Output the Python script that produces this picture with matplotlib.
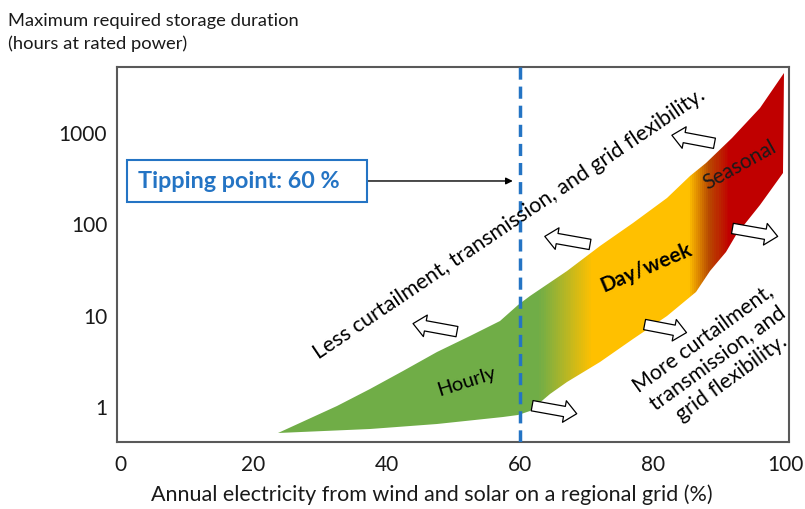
import numpy as np
import matplotlib
matplotlib.use('Agg')
import matplotlib.pyplot as plt
from matplotlib.colors import LinearSegmentedColormap
from matplotlib.patches import Polygon, Rectangle, FancyArrowPatch, ArrowStyle
from matplotlib.ticker import NullLocator

plt.rcParams['font.family'] = ['Lato', 'DejaVu Sans']

# outline of the storage band (x = % wind+solar, y = hours)
upper_x = [23.7, 32.6, 37.5, 42.5, 47.6, 52.6, 57.1, 59.8, 61.6, 67.1, 72.1, 77.0, 82.1, 85.6, 88.1, 92.0, 96.1, 99.8]
upper_y = [0.505, 1.0, 1.54, 2.42, 3.92, 5.88, 8.6, 12.6, 15.8, 30, 57, 100, 188, 328, 456, 860, 1836, 4450]
lower_x = [99.6, 96.1, 92.6, 91.1, 88.6, 86.6, 82.1, 77.0, 72.1, 67.1, 64.6, 61.6, 59.8, 57.5, 47.6, 37.5]
lower_y = [354, 158, 74, 49, 29.7, 17.9, 9.75, 5.45, 3.05, 1.84, 1.36, 0.88, 0.796, 0.757, 0.634, 0.56]

x_ticks = [0, 20, 40, 60, 80, 100]
y_ticks = [1, 10, 100, 1000]
tipping_point = 60

# left-pointing (toward less) and right-pointing (toward more) hollow arrows: (tail, head)
left_arrows = [((50.6, 6.5), (44.0, 7.96)),
               ((70.6, 58.8), (63.8, 72.0)),
               ((89.3, 757), (82.9, 927))]
right_arrows = [((61.9, 1.0), (68.6, 0.817)),
                ((78.8, 7.77), (85.1, 6.34)),
                ((92.0, 88.0), (98.8, 72.0))]

blue = '#2474C4'

fig = plt.figure(figsize=(8.05, 5.10), dpi=100)
ax = fig.add_axes([0.1453, 0.1314, 0.8348, 0.7353])
ax.set_yscale('log')
ax.set_xlim(-0.5, 100.5)
ax.set_ylim(0.40, 5200)

# gradient band: colour changes along x, clipped to the outline
x0 = min(upper_x)
span = 100 - x0
cmap = LinearSegmentedColormap.from_list(
    'band', [(0.0, '#70AD47'), ((63 - x0) / span, '#70AD47'),
             ((71 - x0) / span, '#FFC000'), ((85.6 - x0) / span, '#FFC000'),
             ((88.6 - x0) / span, '#B84A00'),
             ((91.5 - x0) / span, '#C00000'), (1.0, '#C00000')])
xe = np.linspace(x0, 100, 500)
xc = 0.5 * (xe[1:] + xe[:-1])
mesh = ax.pcolormesh(xe, [0.3, 8000], xc[None, :], cmap=cmap,
                     vmin=x0, vmax=100, shading='flat', zorder=1)
outline = Polygon(list(zip(upper_x + lower_x, upper_y + lower_y)), closed=True,
                  facecolor='none', edgecolor='none', transform=ax.transData)
ax.add_patch(outline)
mesh.set_clip_path(outline)

ax.axvline(tipping_point, color=blue, lw=2.5, ls=(0, (3.5, 2)), zorder=3)

# hollow block arrows
style = ArrowStyle.Simple(head_length=0.6, head_width=1.05, tail_width=0.5)
for tail, head in left_arrows + right_arrows:
    ax.add_patch(FancyArrowPatch(tail, head, arrowstyle=style, mutation_scale=15,
                                 fc='white', ec='black', lw=0.9, shrinkA=0, shrinkB=0, zorder=4))

# tipping point box and pointer
ax.add_patch(Rectangle((0.0149, 0.64), 0.357, 0.112, transform=ax.transAxes,
                       fill=False, ec=blue, lw=1.5, zorder=5))
ax.text(0.031, 0.696, 'Tipping point: 60 %', transform=ax.transAxes, color=blue,
        fontsize=16.8, fontweight='bold', va='center', ha='left', zorder=5)
ax.annotate('', xy=(0.589, 0.696), xytext=(0.372, 0.696), xycoords='axes fraction',
            arrowprops=dict(arrowstyle='-|>', color='black', lw=1, mutation_scale=10,
                            shrinkA=0, shrinkB=0))

# labels inside the plot
ax.text(58.4, 100, 'Less curtailment, transmission, and grid flexibility.', rotation=34,
        ha='center', va='center', rotation_mode='anchor', fontsize=15.5, zorder=5)
ax.text(89.7, 3.4, 'More curtailment,\ntransmission, and\ngrid flexibility.', rotation=36,
        ha='center', va='center', rotation_mode='anchor', fontsize=15.3,
        multialignment='center', linespacing=1.25, zorder=5)
ax.text(52.1, 1.88, 'Hourly', rotation=17.6, ha='center', va='center',
        rotation_mode='anchor', fontsize=14.5, zorder=5)
ax.text(79.1, 33.7, 'Day/week', rotation=23, ha='center', va='center',
        rotation_mode='anchor', fontsize=15, fontweight='bold', zorder=5)
ax.text(93.1, 445, 'Seasonal', rotation=29, ha='center', va='center',
        rotation_mode='anchor', fontsize=15, color='#1a1a1a', zorder=5)

ax.set_xticks(x_ticks, [str(v) for v in x_ticks])
ax.set_yticks(y_ticks, [str(v) for v in y_ticks])
ax.yaxis.set_minor_locator(NullLocator())
ax.tick_params(length=0, labelsize=15, labelcolor='#1a1a1a')
ax.tick_params(axis='y', pad=7)
ax.tick_params(axis='x', pad=9)
for s in ax.spines.values():
    s.set_color('#595959')
    s.set_linewidth(1.5)

fig.text(8 / 805, 1 - 13 / 510, 'Maximum required storage duration\n(hours at rated power)',
         ha='left', va='top', fontsize=13.2, color='#1a1a1a', linespacing=1.45)
fig.text(432 / 805, 1 - 495 / 510, 'Annual electricity from wind and solar on a regional grid (%)',
         ha='center', va='center', fontsize=15.5, color='#1a1a1a')

fig.savefig('out.png', dpi=100)
